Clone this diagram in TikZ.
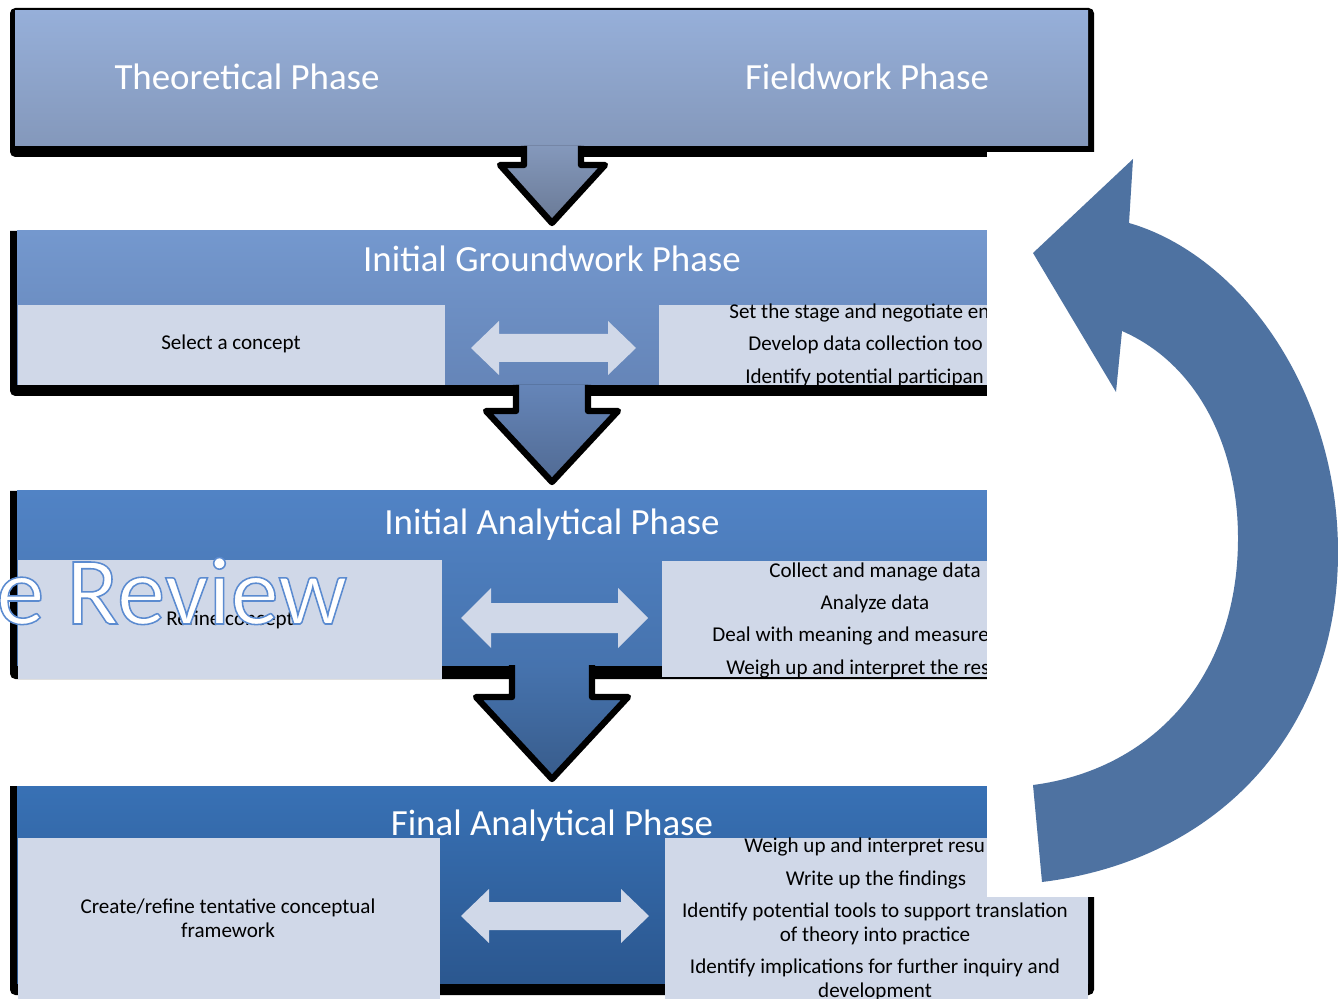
\documentclass[tikz,border=0pt]{standalone}
\usepackage{fontspec}
\setmainfont{Carlito}
\newfontfamily\reviewfont[FakeBold=1.6]{Carlito}
\usetikzlibrary{positioning}

\definecolor{detailfill}{HTML}{D0D8E8}
\definecolor{cyclearrow}{HTML}{4E72A1}
\definecolor{topA}{HTML}{96AFD9}
\definecolor{topB}{HTML}{8498BB}
\definecolor{gwA}{HTML}{7498CE}
\definecolor{gwB}{HTML}{6585B8}
\definecolor{anA}{HTML}{5183C5}
\definecolor{anB}{HTML}{4673AE}
\definecolor{fiA}{HTML}{3871B5}
\definecolor{fiB}{HTML}{2B578F}

\begin{document}
\begin{tikzpicture}[
    x=0.02cm, y=-0.02cm, % one unit = one pixel of the 1338x999 frame
    % --- Styles ---
    phase title/.style={text=white, font=\fontsize{21}{25}\selectfont},
    item text/.style={font=\fontsize{12}{13.6}\selectfont, align=center, inner sep=0pt},
    detail box/.style={fill=detailfill},
    swap arrow/.style={fill=detailfill},
    down arrow/.style={draw=black, line width=3.6pt, line join=round, line cap=butt}
]
    \useasboundingbox (0,0) rectangle (1338,999);
    \clip (0,0) rectangle (1338,999);

    %% --- TOP BOX ---
    \fill[black, rounded corners=3pt] (10,8) rectangle (1094,157);
    \fill[top color=topA, bottom color=topB] (15,11) rectangle (1088,146);
    \node[phase title] (theory) at (247,77) {Theoretical Phase};
    \node[phase title] (field) at (867,77) {Fieldwork Phase};

    % Down arrow 1
    \fill[top color=topB, bottom color=topB!80!black] (524,146) -- (524,165) -- (500,165) -- (552,223) -- (605,165) -- (581,165) -- (581,146) -- cycle;
    \draw[down arrow] (524,146) -- (524,165) -- (500,165) -- (552,223) -- (605,165) -- (581,165) -- (581,146);

    %% --- INITIAL GROUNDWORK PHASE ---
    \fill[black] (10,231) [rounded corners=3pt] -- (10,396) -- (993,396) [sharp corners] -- (993,231) -- cycle;
    \fill[top color=gwA, bottom color=gwB] (17,231) rectangle (987,385);
    \fill[detail box] (18,305) rectangle (445,385);
    \fill[detail box] (659,305) rectangle (987,385);
    \fill[swap arrow] (471,348) -- (499,321) -- (499,334) -- (608,334) -- (608,321) -- (636,348)
        -- (608,375) -- (608,362) -- (499,362) -- (499,375) -- cycle;
    \node[phase title] (ground) at (552,259) {Initial Groundwork Phase};
    \node[item text] (select) at (231,344) {Select a concept};
    \node[item text, anchor=mid west] (stage) at (729,314) {Set the stage and negotiate en};
    \node[item text, anchor=mid west] (tools) at (748,346) {Develop data collection too};
    \node[item text, anchor=mid west] (people) at (745,379) {Identify potential participan};

    % Down arrow 2
    \fill[top color=gwB, bottom color=gwB!80!black] (516,385) -- (516,411) -- (486,411) -- (552,482) -- (618,411) -- (588,411) -- (588,385) -- cycle;
    \draw[down arrow] (516,385) -- (516,411) -- (486,411) -- (552,482) -- (618,411) -- (588,411) -- (588,385);

    %% --- INITIAL ANALYTICAL PHASE ---
    \fill[black] (10,491) [rounded corners=3pt] -- (10,679) -- (993,679) [sharp corners] -- (993,491) -- cycle;
    \fill[top color=anA, bottom color=anB] (17,491) rectangle (987,665);
    \fill[detail box] (18,560) rectangle (442,679);
    \fill[detail box] (662,561) rectangle (987,677);
    \fill[swap arrow] (461,618) -- (491,588) -- (491,603) -- (618,603) -- (618,588) -- (648,618)
        -- (618,648) -- (618,633) -- (491,633) -- (491,648) -- cycle;
    \node[phase title] (initan) at (552,525) {Initial Analytical Phase};
    \node[item text] (refine) at (230,620) {Refine concept};
    \node[item text] (collect) at (875,572) {Collect and manage data};
    \node[item text] (analyze) at (875,604) {Analyze data};
    \node[item text, anchor=mid west] (meaning) at (712,637) {Deal with meaning and measure};
    \node[item text, anchor=mid west] (results) at (726,670) {Weigh up and interpret the res};

    % Down arrow 3
    \fill[top color=anB, bottom color=anB!80!black] (512,665) -- (512,697) -- (476,697) -- (552,779) -- (628,697) -- (592,697) -- (592,665) -- cycle;
    \draw[down arrow] (512,665) -- (512,697) -- (476,697) -- (552,779) -- (628,697) -- (592,697) -- (592,665);

    %% --- FINAL ANALYTICAL PHASE ---
    \fill[black] (10,786) [rounded corners=3pt] -- (10,995) -- (1094,995) [sharp corners] -- (1094,786) -- cycle;
    \fill[top color=fiA, bottom color=fiB] (17,786) rectangle (1088,983);
    \fill[detail box] (18,838) rectangle (440,1002);
    \fill[detail box] (665,838) rectangle (1088,1002);
    \fill[swap arrow] (461,916) -- (489,889) -- (489,902) -- (621,902) -- (621,889) -- (649,916)
        -- (621,943) -- (621,930) -- (489,930) -- (489,943) -- cycle;
    \node[phase title] (finan) at (552,826) {Final Analytical Phase};
    \node[item text] (frame) at (228,918) {Create/refine tentative conceptual\\framework};
    \node[item text, anchor=mid west] (interpret) at (744,848) {Weigh up and interpret resu};
    \node[item text] (findings) at (876,880) {Write up the findings};
    \node[item text] (practice) at (875,924) {Identify potential tools to support translation\\of theory into practice};
    \node[item text] (inquiry) at (875,980) {Identify implications for further inquiry and\\development};

    %% --- CYCLE ARROW ---
    \fill[white] (987,152) rectangle (1338,897);
    \fill[cyclearrow] (1133,159) -- (1033,253) -- (1116,392) -- (1122,331)
        .. controls (1200,365) and (1238,450) .. (1238,538)
        .. controls (1238,680) and (1150,770) .. (1033,785)
        -- (1042,882)
        .. controls (1220,860) and (1338,730) .. (1338,552)
        .. controls (1338,390) and (1240,255) .. (1129,223) -- cycle;

    % Outlined heading, cut at the left edge (white fill, blue stroke)
    \node[text=white, font=\reviewfont\fontsize{55}{60}\selectfont, anchor=base west, inner sep=0pt]
        (review) at (-4,624) {\special{pdf:code 1 1 1 rg 0.357 0.545 0.816 RG}e Review};
\end{tikzpicture}
\end{document}
